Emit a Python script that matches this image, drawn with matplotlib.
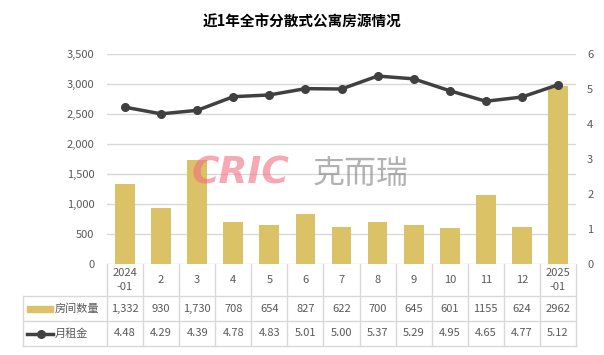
import numpy as np
import matplotlib
matplotlib.use("Agg")
from matplotlib import pyplot as plt
from matplotlib import transforms

plt.rcParams['font.family'] = ['Noto Sans CJK SC', 'DejaVu Sans']

months = ["2024\n-01", "2", "3", "4", "5", "6", "7", "8", "9", "10", "11", "12", "2025\n-01"]
rooms = [1332, 930, 1730, 708, 654, 827, 622, 700, 645, 601, 1155, 624, 2962]
rooms_text = ["1,332", "930", "1,730", "708", "654", "827", "622", "700", "645", "601", "1155", "624", "2962"]
rent = [4.48, 4.29, 4.39, 4.78, 4.83, 5.01, 5.00, 5.37, 5.29, 4.95, 4.65, 4.77, 5.12]

bar_color = "#dbc266"
line_color = "#404040"
grid_color = "#d9d9d9"
text_color = "#595959"

W, H = 604, 355
fig = plt.figure(figsize=(W / 100, H / 100), dpi=100)
ax = fig.add_axes([107 / W, 1 - 264 / H, (576 - 107) / W, (264 - 54) / H])
ax2 = ax.twinx()

x = np.arange(len(months))
ax.bar(x, rooms, width=0.55, color=bar_color, zorder=2)
ax2.plot(x, rent, color=line_color, lw=2.5, marker="o", ms=5.5, zorder=3)

ax.set_xlim(-0.5, len(months) - 0.5)
ax.set_ylim(0, 3500)
ax.set_yticks(np.arange(0, 3501, 500))
ax.set_yticklabels([f"{v:,}" for v in range(0, 3501, 500)])
ax2.set_ylim(0, 6)
ax2.set_yticks(range(7))
ax.yaxis.grid(True, color=grid_color, lw=1, zorder=0)
ax.set_xticks([])
for a in (ax, ax2):
    for s in a.spines.values():
        s.set_visible(False)
    a.tick_params(axis="y", length=0, labelsize=8, colors=text_color)
ax.tick_params(axis="y", pad=9)
ax2.tick_params(axis="y", pad=8)
ax2.set_zorder(ax.get_zorder() + 1)
ax2.patch.set_visible(False)

fig.text(0.5, 1 - 22 / H, "近1年全市分散式公寓房源情况", ha="center", va="center",
         fontsize=10.5, fontweight="bold", color="#000000")

# watermark
fig.text(192 / W, 1 - 174 / H, "CRIC", ha="left", va="center", fontsize=27,
         fontweight="bold", style="italic", color="#f07080", alpha=0.6,
         family="DejaVu Sans")
fig.text(313 / W, 1 - 174 / H, "克而瑞", ha="left", va="center", fontsize=23,
         color="#808080", alpha=0.6)

# data table below the plot
tr = transforms.blended_transform_factory(ax.transData, fig.transFigure)
y_top, y_r1, y_r2, y_bot = [1 - v / H for v in (264, 296, 321, 346)]
lx = 23 / W
lkw = dict(color=grid_color, lw=1, clip_on=False)
n = len(months)
for i in range(n + 1):
    ax.plot([i - 0.5, i - 0.5], [y_top, y_bot], transform=tr, **lkw)
for yy in (y_r1, y_r2, y_bot):
    fig.add_artist(plt.Line2D([lx, 576 / W], [yy, yy], **lkw))
fig.add_artist(plt.Line2D([lx, lx], [y_r1, y_bot], **lkw))
for i in range(n):
    ax.text(i, (y_top + y_r1) / 2, months[i], transform=tr, ha="center", va="center",
            fontsize=8, color=text_color, linespacing=1.4)
    ax.text(i, (y_r1 + y_r2) / 2, rooms_text[i], transform=tr, ha="center", va="center",
            fontsize=8, color=text_color)
    ax.text(i, (y_r2 + y_bot) / 2, f"{rent[i]:.2f}", transform=tr, ha="center", va="center",
            fontsize=8, color=text_color)

ym1 = (y_r1 + y_r2) / 2
ym2 = (y_r2 + y_bot) / 2
fig.add_artist(plt.Rectangle((27 / W, ym1 - 3 / H), 26 / W, 6 / H, color=bar_color))
fig.add_artist(plt.Line2D([27 / W, 53 / W], [ym2, ym2], color=line_color, lw=2.5))
fig.add_artist(plt.Line2D([41 / W], [ym2], color=line_color, marker="o", ms=5.5))
fig.text(55 / W, ym1, "房间数量", ha="left", va="center", fontsize=8, color=text_color)
fig.text(55 / W, ym2, "月租金", ha="left", va="center", fontsize=8, color=text_color)

fig.savefig("out.png", dpi=100)
